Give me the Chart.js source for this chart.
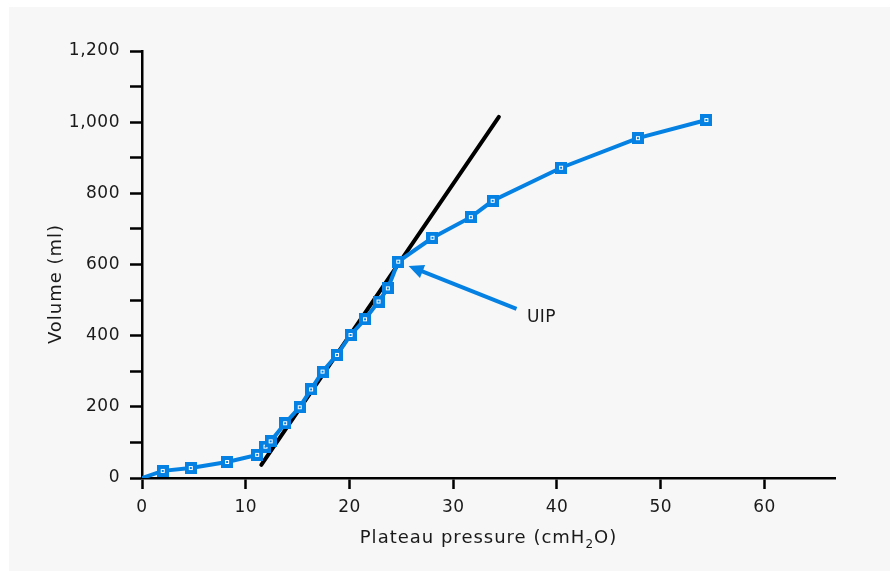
<!DOCTYPE html>
<html>
<head>
<meta charset="utf-8">
<script src="https://cdn.jsdelivr.net/npm/chart.js@4.4.1/dist/chart.umd.min.js"></script>
<style>
  html, body { margin:0; padding:0; background:#ffffff; }
  #panel { position:absolute; left:9px; top:7px; width:881px; height:564px; background:#f7f7f7; }
  #wrap { position:absolute; left:0; top:0; width:892px; height:571px; }
</style>
</head>
<body>
<div id="panel"></div>
<div id="wrap"><canvas id="c" width="892" height="571"></canvas></div>
<script>
// ---- data ----
const pressure = [0, 2.0, 4.7, 8.2, 11.1, 11.9, 12.4, 13.8, 15.2, 16.3, 17.4, 18.8, 20.1, 21.5, 22.8, 23.7, 24.7, 28.0, 31.7, 33.8, 40.4, 47.8, 54.4];
const volume   = [0, 20, 28, 45, 65, 88, 103, 154, 199, 249, 299, 346, 402, 446, 496, 533, 608, 675, 733, 779, 872, 955, 1006];
const tangentPressure = [11.5, 34.4];
const tangentVolume   = [37, 1015];
const arrowTail = [36.1, 475];
const arrowTip  = [25.7, 596];
const uipLabel = "UIP";
const uipPos = [37.1, 452];
const xTitle = ["Plateau pressure (cmH", "2", "O)"];
const yTitle = "Volume (ml)";
const xTicks = [0, 10, 20, 30, 40, 50, 60];

const BLUE = '#0481e2';
const FONT = '"DejaVu Sans", Verdana, sans-serif';
const TXT = '#1a1a1a';

// marker image
const mk = document.createElement('canvas');
mk.width = 12; mk.height = 12;
const mctx = mk.getContext('2d');
mctx.fillStyle = BLUE; mctx.fillRect(0,0,12,12);
mctx.strokeStyle = '#ffffff'; mctx.lineWidth = 1;
mctx.strokeRect(4.5,4.5,3,3);

const mainData = pressure.map((p,i)=>({x:p, y:volume[i]}));
const tanData = tangentPressure.map((p,i)=>({x:p, y:tangentVolume[i]}));

const annot = {
  id:'annot',
  beforeDraw(chart){ chart.ctx.letterSpacing = '0.5px'; },
  afterDatasetsDraw(chart){
    const ctx = chart.ctx, xs = chart.scales.x, ys = chart.scales.y;
    const tx = xs.getPixelForValue(arrowTail[0]), ty = ys.getPixelForValue(arrowTail[1]);
    const hx = xs.getPixelForValue(arrowTip[0]), hy = ys.getPixelForValue(arrowTip[1]);
    const ang = Math.atan2(hy-ty, hx-tx);
    const L = 15, W = 7;
    const bx = hx - L*Math.cos(ang), by = hy - L*Math.sin(ang);
    ctx.save();
    ctx.strokeStyle = BLUE; ctx.fillStyle = BLUE; ctx.lineWidth = 4; ctx.lineCap='butt';
    ctx.beginPath(); ctx.moveTo(tx,ty); ctx.lineTo(bx+3*Math.cos(ang),by+3*Math.sin(ang)); ctx.stroke();
    ctx.beginPath();
    ctx.moveTo(hx,hy);
    ctx.lineTo(bx + W*Math.sin(ang), by - W*Math.cos(ang));
    ctx.lineTo(bx - W*Math.sin(ang), by + W*Math.cos(ang));
    ctx.closePath(); ctx.fill();
    ctx.letterSpacing = '0.5px';
    ctx.fillStyle = TXT; ctx.font = '17px '+FONT; ctx.textAlign='left'; ctx.textBaseline='middle';
    ctx.fillText(uipLabel, xs.getPixelForValue(uipPos[0]), ys.getPixelForValue(uipPos[1]));
    ctx.restore();
  },
  afterDraw(chart){
    const ctx = chart.ctx, ca = chart.chartArea;
    ctx.save();
    ctx.fillStyle = TXT;
    ctx.letterSpacing = '1px';
    // y title
    ctx.font = '18px '+FONT; ctx.textAlign='center'; ctx.textBaseline='middle';
    ctx.translate(56, 284); ctx.rotate(-Math.PI/2);
    ctx.fillText(yTitle, 0, 0);
    ctx.setTransform(1,0,0,1,0,0);
    // x title with subscript
    const big = '18px '+FONT, small = '12px '+FONT;
    ctx.font = big; const w1 = ctx.measureText(xTitle[0]).width, w3 = ctx.measureText(xTitle[2]).width;
    ctx.font = small; const w2 = ctx.measureText(xTitle[1]).width;
    const total = w1+w2+w3;
    let x = (ca.left+ca.right)/2 - total/2; const y = 543;
    ctx.textAlign='left'; ctx.textBaseline='alphabetic';
    ctx.font = big; ctx.fillText(xTitle[0], x, y); x += w1;
    ctx.font = small; ctx.fillText(xTitle[1], x, y+4.5); x += w2;
    ctx.font = big; ctx.fillText(xTitle[2], x, y);
    ctx.restore();
  }
};

new Chart(document.getElementById('c'), {
  type:'scatter',
  data:{
    datasets:[
      { data: mainData, showLine:true, borderColor:BLUE, borderWidth:4, tension:0,
        pointStyle: mk, pointRadius: mainData.map((d,i)=> i===0 ? 0 : 6), pointHoverRadius:6, order:1 },
      { data: tanData, showLine:true, borderColor:'#000000', borderWidth:4, pointRadius:0, order:2, borderCapStyle:'round' }
    ]
  },
  options:{
    responsive:false, animation:false,
    layout:{ padding:{ left:0, right:57, top:51, bottom:0 } },
    plugins:{ legend:{display:false}, tooltip:{enabled:false} },
    scales:{
      x:{
        type:'linear', min:0, max:66.8,
        afterBuildTicks: s => { s.ticks = xTicks.map(v=>({value:v})); },
        afterFit: s => { s.height = 93; },
        border:{ display:true, color:'#000', width:2.5 },
        grid:{ drawOnChartArea:false, drawTicks:true, tickLength:11, tickColor:'#000', tickWidth:2.5 },
        ticks:{ color:TXT, font:{ family:FONT, size:17 }, padding:8, maxRotation:0, autoSkip:false,
                callback: v => String(v) }
      },
      y:{
        type:'linear', min:0, max:1200,
        ticks:{ stepSize:100, color:TXT, font:{ family:FONT, size:17 }, padding:10, autoSkip:false,
                callback: v => (v % 200 === 0 ? v.toLocaleString('en-US') : '') },
        afterFit: s => { s.width = 142; },
        border:{ display:true, color:'#000', width:2.5 },
        grid:{ drawOnChartArea:false, drawTicks:true, tickLength:12, tickColor:'#000', tickWidth:2.5 }
      }
    }
  },
  plugins:[annot]
});
</script>
</body>
</html>
